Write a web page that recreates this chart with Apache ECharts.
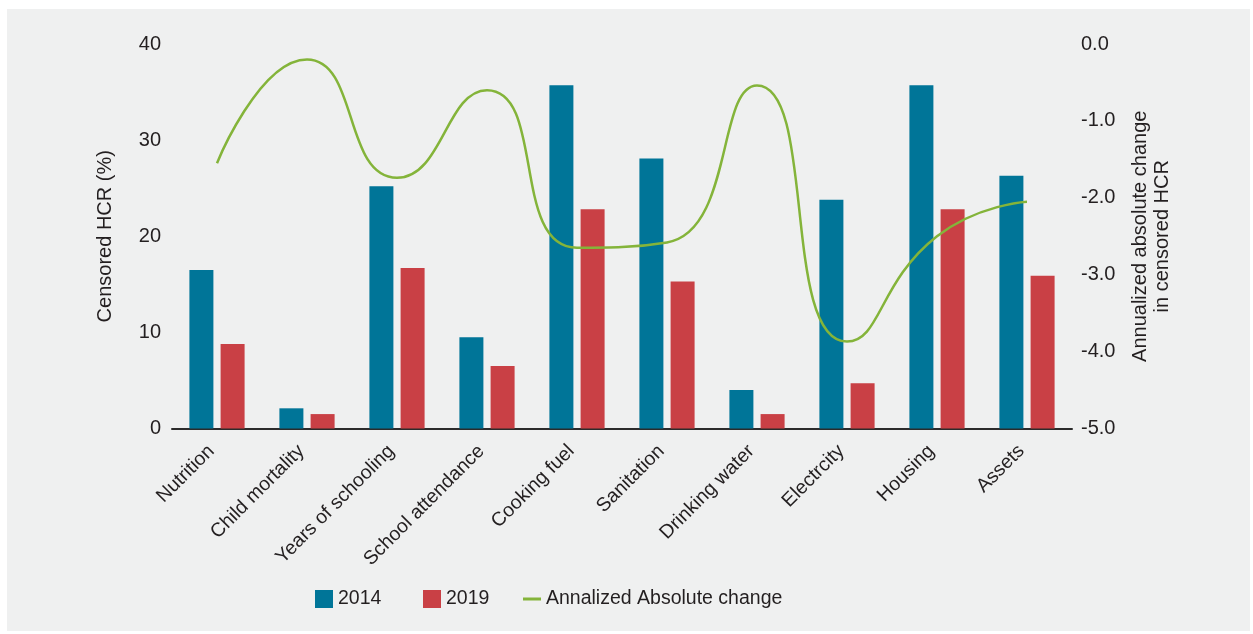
<!DOCTYPE html>
<html>
<head>
<meta charset="utf-8">
<script src="https://cdn.jsdelivr.net/npm/echarts@6/dist/echarts.min.js"></script>
<style>
  html, body { margin: 0; padding: 0; background: #ffffff; }
  #bg { position: absolute; left: 7px; top: 9px; width: 1243px; height: 622px; background: #eff0f0; }
  #chart { position: absolute; left: 0; top: 0; width: 1253px; height: 634px; }
</style>
</head>
<body>
<div id="bg"></div>
<div id="chart"></div>
<script>
const categories = ['Nutrition', 'Child mortality', 'Years of schooling', 'School attendance', 'Cooking fuel', 'Sanitation', 'Drinking water', 'Electrcity', 'Housing', 'Assets'];
const values2014 = [16.5, 2.1, 25.2, 9.5, 35.7, 28.1, 4.0, 23.8, 35.7, 26.3];
const values2019 = [8.8, 1.5, 16.7, 6.5, 22.8, 15.3, 1.5, 4.7, 22.8, 15.9];
const annualChange = [-1.55, -0.2, -1.74, -0.6, -2.65, -2.58, -0.54, -3.87, -2.5, -2.05];
const leftTicks = [0, 10, 20, 30, 40];
const rightTicks = [-5.0, -4.0, -3.0, -2.0, -1.0, 0.0];

const textColor = '#231f20';
const font = 'Liberation Sans, Arial, sans-serif';
const legendText = { fontSize: 19.5, color: textColor, fontFamily: font };

const chart = echarts.init(document.getElementById('chart'), null, { renderer: 'canvas' });
chart.setOption({
  backgroundColor: 'transparent',
  animation: false,
  textStyle: { fontFamily: font, color: textColor },
  grid: { left: 172, right: 181, top: 44, bottom: 205.5, containLabel: false },
  legend: [
    { left: 315, top: 589, padding: 0, itemWidth: 18, itemHeight: 18, textStyle: legendText,
      data: [{ name: '2014', icon: 'rect' }] },
    { left: 423, top: 589, padding: 0, itemWidth: 18, itemHeight: 18, textStyle: legendText,
      data: [{ name: '2019', icon: 'rect' }] },
    { left: 523, top: 589, padding: 0, itemWidth: 18, itemHeight: 18, textStyle: legendText,
      data: [{ name: 'Annalized Absolute change', icon: 'path://M0,0 H18 V3 H0 Z' }] }
  ],
  xAxis: {
    type: 'category',
    data: categories,
    axisLine: { show: true, lineStyle: { color: '#2b2b2b', width: 2 } },
    axisTick: { show: false },
    axisLabel: { rotate: 45, fontSize: 19.5, color: textColor, margin: 14, padding: [0, 8, 0, 0], fontFamily: font, interval: 0 }
  },
  yAxis: [
    {
      type: 'value', min: leftTicks[0], max: leftTicks[leftTicks.length - 1], interval: 10,
      name: 'Censored HCR (%)', nameLocation: 'middle', nameRotate: 90, nameGap: 57,
      nameTextStyle: { fontSize: 20, color: textColor, fontFamily: font },
      axisLine: { show: false }, axisTick: { show: false }, splitLine: { show: false },
      axisLabel: { fontSize: 20, color: textColor, margin: 11, fontFamily: font }
    },
    {
      type: 'value', min: rightTicks[0], max: rightTicks[rightTicks.length - 1], interval: 1,
      name: 'Annualized absolute change\nin censored HCR', nameLocation: 'middle', nameRotate: 90, nameGap: 57,
      nameTextStyle: { fontSize: 20, color: textColor, fontFamily: font, lineHeight: 22 },
      axisLine: { show: false }, axisTick: { show: false }, splitLine: { show: false },
      axisLabel: { fontSize: 20, color: textColor, margin: 9, fontFamily: font, formatter: v => v.toFixed(1) }
    }
  ],
  series: [
    {
      name: '2014', type: 'bar', data: values2014, yAxisIndex: 0,
      barWidth: 24, barGap: '30%',
      itemStyle: { color: '#007598' }
    },
    {
      name: '2019', type: 'bar', data: values2019, yAxisIndex: 0,
      barWidth: 24,
      itemStyle: { color: '#c94045' }
    },
    {
      name: 'Annalized Absolute change', type: 'line', data: annualChange, yAxisIndex: 1,
      smooth: 0.55, symbol: 'none', showSymbol: false,
      lineStyle: { color: '#84b43a', width: 2.5 },
      itemStyle: { color: '#84b43a' }
    }
  ]
});
</script>
</body>
</html>
